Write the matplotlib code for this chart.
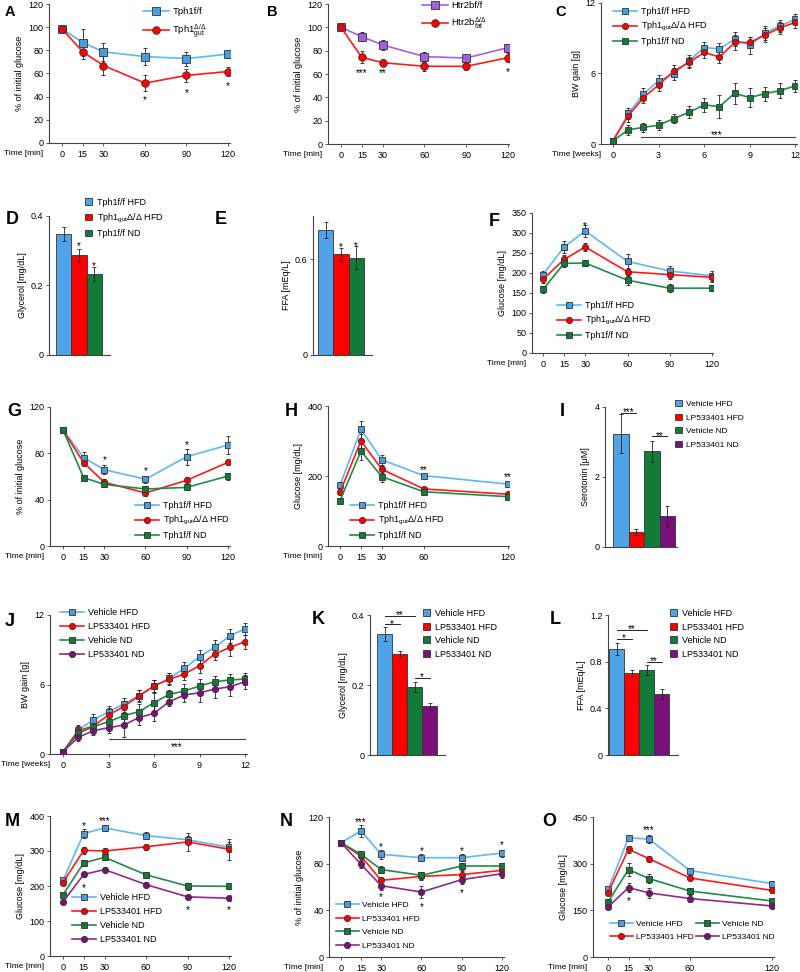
import matplotlib
matplotlib.use('Agg')
import matplotlib.pyplot as plt

plt.rcParams['font.family'] = ['Liberation Sans', 'DejaVu Sans']
plt.rcParams['mathtext.fontset'] = 'custom'
plt.rcParams['mathtext.rm'] = 'Liberation Sans'
plt.rcParams['mathtext.it'] = 'Liberation Sans:italic'
plt.rcParams['mathtext.bf'] = 'Liberation Sans:bold'

# ---------------- data ----------------
t_min = [0, 15, 30, 60, 90, 120]
t_short = [0, 15, 30, 60, 120]
weeks = list(range(13))

# A
a_ff = [98.5, 86.7, 78.7, 74.6, 72.9, 76.7]
a_ff_err = [1, 12, 8, 7, 6, 3]
a_gut = [98.5, 78.7, 66.9, 51.7, 58.3, 61.7]
a_gut_err = [1, 6, 8, 7, 6, 4]
# B
b_ff = [100, 92, 84.9, 74.9, 73.7, 82.6]
b_ff_err = [1, 4, 4, 4, 3, 3]
b_fat = [100, 74.3, 69.7, 66.6, 66.6, 74]
b_fat_err = [1, 5, 3, 4, 3, 4]
# C
c_ff_hfd = [0.28, 2.6, 4.26, 5.37, 5.97, 7.08, 8.2, 8.1, 8.9, 8.4, 9.44, 10.07, 10.6]
c_ff_hfd_err = [0.2, 0.5, 0.5, 0.5, 0.5, 0.5, 0.5, 0.5, 0.6, 0.7, 0.6, 0.5, 0.5]
c_gut_hfd = [0.28, 2.39, 3.95, 5.03, 6.2, 6.94, 7.8, 7.4, 8.64, 8.64, 9.27, 9.9, 10.35]
c_gut_hfd_err = [0.2, 0.5, 0.5, 0.5, 0.5, 0.5, 0.5, 0.5, 0.6, 0.5, 0.6, 0.5, 0.5]
c_ff_nd = [0.28, 1.2, 1.42, 1.6, 2.16, 2.7, 3.33, 3.18, 4.32, 3.95, 4.29, 4.55, 4.95]
c_ff_nd_err = [0.2, 0.4, 0.4, 0.4, 0.4, 0.5, 0.6, 1.0, 0.9, 0.8, 0.6, 0.6, 0.5]
# D / E
de_groups = ['Tph1f/f HFD', r'Tph1$_{\rm gut}$Δ/Δ HFD', 'Tph1f/f ND']
d_glycerol = [0.349, 0.287, 0.232]
d_glycerol_err = [0.02, 0.018, 0.02]
e_ffa = [0.78, 0.63, 0.61]
e_ffa_err = [0.05, 0.04, 0.07]
# F
f_ff_hfd = [196, 265, 305, 229, 205, 193]
f_ff_hfd_err = [10, 15, 15, 18, 12, 12]
f_gut_hfd = [184, 234, 265, 203, 196, 189]
f_gut_hfd_err = [10, 12, 10, 10, 12, 12]
f_ff_nd = [159, 224, 225, 182, 162, 162]
f_ff_nd_err = [8, 8, 8, 12, 10, 8]
# G
g_ff_hfd = [100.4, 76.3, 65.9, 57.6, 77.1, 87.2]
g_ff_hfd_err = [2, 5, 4, 3, 7, 8]
g_gut_hfd = [99.9, 71.9, 55, 45.8, 56.7, 72.2]
g_gut_hfd_err = [2, 3, 3, 3, 3, 2]
g_ff_nd = [100, 59, 53.2, 49.2, 50.6, 60.4]
g_ff_nd_err = [2, 2, 2, 3, 2, 3]
# H
h_ff_hfd = [174, 333, 246, 201, 177]
h_ff_hfd_err = [8, 25, 15, 6, 6]
h_gut_hfd = [154, 300, 219, 163, 148]
h_gut_hfd_err = [8, 20, 10, 6, 5]
h_ff_nd = [130, 271, 198, 155, 141]
h_ff_nd_err = [6, 25, 15, 5, 4]
# I
lp_groups = ['Vehicle HFD', 'LP533401 HFD', 'Vehicle ND', 'LP533401 ND']
i_serotonin = [3.24, 0.43, 2.73, 0.88]
i_serotonin_err = [0.55, 0.08, 0.3, 0.3]
# J
j_veh_hfd = [0.2, 2.07, 2.94, 3.65, 4.32, 5.04, 5.87, 6.53, 7.4, 8.4, 9.21, 10.2, 10.8]
j_veh_hfd_err = [0.2, 0.4, 0.5, 0.5, 0.5, 0.5, 0.5, 0.5, 0.5, 0.6, 0.6, 0.6, 0.5]
j_lp_hfd = [0.2, 2.0, 2.42, 3.37, 4.09, 5.0, 5.87, 6.45, 6.9, 7.63, 8.63, 9.2, 9.7]
j_lp_hfd_err = [0.2, 0.4, 0.5, 0.6, 0.5, 0.5, 0.5, 0.5, 0.5, 0.6, 0.5, 0.7, 0.6]
j_veh_nd = [0.2, 1.78, 2.36, 2.79, 3.31, 3.65, 4.43, 5.15, 5.44, 5.87, 6.24, 6.39, 6.47]
j_veh_nd_err = [0.2, 0.4, 0.5, 0.5, 0.6, 0.7, 0.8, 0.4, 0.6, 0.6, 0.5, 0.5, 0.5]
j_lp_nd = [0.2, 1.44, 2.01, 2.27, 2.5, 3.14, 3.51, 4.52, 5.09, 5.29, 5.6, 5.81, 6.24]
j_lp_nd_err = [0.2, 0.3, 0.4, 0.5, 1.0, 0.6, 0.7, 0.4, 0.6, 0.8, 0.8, 0.8, 0.6]
# K / L
k_glycerol = [0.346, 0.289, 0.195, 0.14]
k_glycerol_err = [0.02, 0.008, 0.015, 0.01]
l_ffa = [0.906, 0.706, 0.729, 0.523]
l_ffa_err = [0.05, 0.025, 0.04, 0.04]
# M
m_veh_hfd = [216, 350, 366, 344, 332, 311]
m_veh_hfd_err = [6, 12, 8, 10, 12, 15]
m_lp_hfd = [210, 302, 300, 312, 326, 305]
m_lp_hfd_err = [6, 10, 8, 8, 25, 30]
m_veh_nd = [175, 266, 282, 232, 200, 199]
m_veh_nd_err = [6, 8, 8, 8, 10, 8]
m_lp_nd = [155, 233, 247, 204, 169, 165]
m_lp_nd_err = [5, 8, 8, 8, 5, 5]
# N
n_veh_hfd = [98, 108, 88, 85.1, 85.1, 89.1]
n_veh_hfd_err = [1, 5, 4, 3, 3, 3]
n_lp_hfd = [98, 86.3, 65.7, 69.1, 70.6, 74.3]
n_lp_hfd_err = [1, 3, 3, 3, 3, 3]
n_veh_nd = [98, 88, 74.9, 70, 78, 78]
n_veh_nd_err = [1, 3, 3, 3, 3, 3]
n_lp_nd = [98, 79.4, 61.1, 55.7, 66.3, 71.4]
n_lp_nd_err = [1, 3, 4, 5, 4, 4]
# O
o_veh_hfd = [217, 383, 379, 278, 236]
o_veh_hfd_err = [8, 8, 12, 8, 8]
o_lp_hfd = [207, 346, 316, 254, 214]
o_lp_hfd_err = [8, 12, 10, 8, 8]
o_veh_nd = [177, 281, 252, 212, 180]
o_veh_nd_err = [8, 20, 15, 10, 8]
o_lp_nd = [161, 223, 206, 188, 164]
o_lp_nd_err = [8, 15, 15, 10, 6]

# ---------------- style ----------------
W, H = 800, 972
FS = 6.5
EDGE = '#333333'
BLUE_L, BLUE_F = '#5DB8F5', '#4A9EE0'
RED_L, RED_F = '#FF1A1A', '#FF0000'
GREEN_L, GREEN_F = '#1E8C46', '#137A3A'
PURP_L, PURP_F = '#8E2A8E', '#7B107B'
VIOL_L, VIOL_F = '#A65EE6', '#A060E0'
BAR_COLS = ['#4FA3E6', '#FF0000', '#137A3A', '#7B107B']

fig = plt.figure(figsize=(W / 100, H / 100), dpi=100)


def make_ax(x0, top, x1, bottom):
    ax = fig.add_axes([x0 / W, 1 - bottom / H, (x1 - x0) / W, (bottom - top) / H])
    for s in ['top', 'right']:
        ax.spines[s].set_visible(False)
    for s in ['left', 'bottom']:
        ax.spines[s].set_color('#444444')
        ax.spines[s].set_linewidth(0.8)
    ax.tick_params(labelsize=FS, length=2.5, width=0.6, pad=2.5, color='#444444')
    ax.tick_params(axis='y', pad=1.5)
    return ax


def letter(x, y, s, fs=13):
    fig.text(x / W, 1 - y / H, s, fontsize=fs, fontweight='bold', va='center', ha='left')


def time_label(ax, s='Time [min]', dx=-4):
    ax.annotate(s, xy=(0, 0), xycoords='axes fraction', xytext=(dx, -5),
                textcoords='offset points', ha='right', va='top', fontsize=6.0)


def series(ax, x, y, err, lc, fc, marker, label, ms=4.8):
    ax.errorbar(x, y, yerr=err, fmt='none', ecolor='#222222', elinewidth=0.6,
                capsize=1.3, capthick=0.6, zorder=2)
    ln, = ax.plot(x, y, color=lc, lw=1.2, marker=marker, ms=ms, mfc=fc, mec=EDGE,
                  mew=0.6, label=label, zorder=3)
    return ln


def bars(ax, vals, errs):
    b = ax.bar(range(len(vals)), vals, width=1.0, color=BAR_COLS[:len(vals)],
               edgecolor=EDGE, linewidth=0.6, yerr=errs,
               error_kw=dict(ecolor='#222222', elinewidth=0.6, capsize=1.3, capthick=0.6))
    ax.set_xticks([])
    return list(b.patches)


def legend(ax, handles, labels, x, y, ncol=1, bar=False, spacing=0.55, fs=FS, colsp=1.4):
    kw = dict(handlelength=0.8, handleheight=0.8, handletextpad=0.5) if bar else \
        dict(handlelength=2.7, handletextpad=0.4)
    ax.legend(handles, labels, loc='upper left', bbox_to_anchor=(x / W, 1 - (y - 6) / H),
              bbox_transform=fig.transFigure, frameon=False, fontsize=fs, borderpad=0,
              borderaxespad=0, labelspacing=spacing, ncol=ncol, columnspacing=colsp, **kw)


def star(ax, x, y, s, fs=7, dy=-2):
    ax.annotate(s, xy=(x, y), xytext=(0, dy), textcoords='offset points',
                ha='center', va='center', fontsize=fs)


def sig_line(ax, x0, x1, y, s):
    ax.plot([x0, x1], [y, y], color='#222222', lw=0.7)
    star(ax, (x0 + x1) / 2, y, s, dy=0.5)


GUT_HFD = r'Tph1$_{\rm gut}$Δ/Δ HFD'

# ---------------- A ----------------
ax = make_ax(49, 4, 230, 143)
h1 = series(ax, t_min, a_ff, a_ff_err, BLUE_L, BLUE_F, 's', 'Tph1f/f', ms=6)
h2 = series(ax, t_min, a_gut, a_gut_err, RED_L, RED_F, 'o', 'gut', ms=5.5)
ax.set_xlim(-9.4, 121.5); ax.set_ylim(0, 120)
ax.set_xticks(t_min); ax.set_yticks(range(0, 121, 20))
ax.set_ylabel('% of initial glucose', fontsize=FS, labelpad=3)
time_label(ax)
for x, y in [(60, 39.3), (90, 45.4), (120, 51.7)]:
    star(ax, x, y, '*')
legend(ax, [h1, h2], ['Tph1f/f', r'Tph1$_{\rm gut}^{Δ/Δ}$'], 143, 13, spacing=0.7, fs=6.8)
letter(5, 12, 'A', fs=10.5)

# ---------------- B ----------------
ax = make_ax(328, 4, 509, 144)
h1 = series(ax, t_min, b_ff, b_ff_err, VIOL_L, VIOL_F, 's', 'Htr2bf/f', ms=6)
h2 = series(ax, t_min, b_fat, b_fat_err, RED_L, RED_F, 'o', 'fat', ms=5.5)
ax.set_xlim(-9.3, 120.7); ax.set_ylim(0, 120)
ax.set_xticks(t_min); ax.set_yticks(range(0, 121, 20))
ax.set_ylabel('% of initial glucose', fontsize=FS, labelpad=3)
time_label(ax)
star(ax, 15, 62.9, '***'); star(ax, 30, 62.9, '**'); star(ax, 120, 64.3, '*')
legend(ax, [h1, h2], ['Htr2bf/f', r'Htr2b$_{\rm fat}^{Δ/Δ}$'], 422, 7, spacing=0.6, fs=6.8)
letter(267, 12, 'B', fs=10.5)

# ---------------- C ----------------
ax = make_ax(601, 3, 797, 144)
h1 = series(ax, weeks, c_ff_hfd, c_ff_hfd_err, BLUE_L, BLUE_F, 's', 'Tph1f/f HFD')
h2 = series(ax, weeks, c_gut_hfd, c_gut_hfd_err, RED_L, RED_F, 'o', GUT_HFD, ms=4.5)
h3 = series(ax, weeks, c_ff_nd, c_ff_nd_err, GREEN_L, GREEN_F, 's', 'Tph1f/f ND')
ax.set_xlim(-0.79, 12.1); ax.set_ylim(0, 12)
ax.set_xticks([0, 3, 6, 9, 12]); ax.set_yticks([0, 6, 12])
ax.set_ylabel('BW gain [g]', fontsize=FS, labelpad=3)
time_label(ax, 'Time [weeks]', dx=0)
ax.plot([1.87, 12], [0.63, 0.63], color='#444444', lw=0.8)
star(ax, 6.83, 1.0, '***')
legend(ax, [h1, h2, h3], ['Tph1f/f HFD', GUT_HFD, 'Tph1f/f ND'], 613, 13, spacing=0.45)
letter(555, 12, 'C', fs=10.5)

# ---------------- D ----------------
ax = make_ax(49, 216, 110, 355)
p = bars(ax, d_glycerol, d_glycerol_err)
ax.set_xlim(-0.99, 3.05); ax.set_ylim(0, 0.4)
ax.set_yticks([0, 0.2, 0.4]); ax.set_yticklabels(['0', '0.2', '0.4'])
ax.set_ylabel('Glycerol [mg/dL]', fontsize=FS, labelpad=3)
star(ax, 1, 0.322, '*'); star(ax, 2, 0.263, '*')
legend(ax, p, de_groups, 85, 204, bar=True, spacing=0.5)
letter(6, 220, 'D')

# ---------------- E ----------------
ax = make_ax(313, 216, 372, 355)
bars(ax, e_ffa, e_ffa_err)
ax.set_xlim(-0.85, 3.05); ax.set_ylim(0, 0.87)
ax.set_yticks([0, 0.6]); ax.set_yticklabels(['0', '0.6'])
ax.set_ylabel('FFA [mEq/L]', fontsize=FS, labelpad=3)
star(ax, 1, 0.69, '*'); star(ax, 2, 0.70, '*')
letter(215, 220, 'E')

# ---------------- F ----------------
ax = make_ax(532, 213, 713, 353)
h1 = series(ax, t_min, f_ff_hfd, f_ff_hfd_err, BLUE_L, BLUE_F, 's', 'Tph1f/f HFD')
h2 = series(ax, t_min, f_gut_hfd, f_gut_hfd_err, RED_L, RED_F, 'o', GUT_HFD, ms=4.5)
h3 = series(ax, t_min, f_ff_nd, f_ff_nd_err, GREEN_L, GREEN_F, 's', 'Tph1f/f ND')
ax.set_xlim(-7.8, 120.7); ax.set_ylim(0, 350)
ax.set_xticks(t_min); ax.set_yticks(range(0, 351, 50))
ax.set_ylabel('Glucose [mg/dL]', fontsize=FS, labelpad=3)
time_label(ax)
star(ax, 30, 323, '*')
legend(ax, [h1, h2, h3], ['Tph1f/f HFD', GUT_HFD, 'Tph1f/f ND'], 557, 307, spacing=0.45)
letter(489, 222, 'F')

# ---------------- G ----------------
ax = make_ax(50, 407, 230, 546)
h1 = series(ax, t_min, g_ff_hfd, g_ff_hfd_err, BLUE_L, BLUE_F, 's', 'Tph1f/f HFD')
h2 = series(ax, t_min, g_gut_hfd, g_gut_hfd_err, RED_L, RED_F, 'o', GUT_HFD, ms=4.5)
h3 = series(ax, t_min, g_ff_nd, g_ff_nd_err, GREEN_L, GREEN_F, 's', 'Tph1f/f ND')
ax.set_xlim(-9.5, 121.5); ax.set_ylim(0, 120)
ax.set_xticks(t_min); ax.set_yticks([0, 40, 80, 120])
ax.set_ylabel('% of initial glucose', fontsize=FS, labelpad=3)
time_label(ax)
star(ax, 30, 76.3, '*'); star(ax, 60, 67.3, '*'); star(ax, 90, 89.8, '*')
legend(ax, [h1, h2, h3], ['Tph1f/f HFD', GUT_HFD, 'Tph1f/f ND'], 135, 507, spacing=0.45)
letter(7, 412, 'G')

# ---------------- H ----------------
ax = make_ax(328, 406, 509, 546)
h1 = series(ax, t_short, h_ff_hfd, h_ff_hfd_err, BLUE_L, BLUE_F, 's', 'Tph1f/f HFD')
h2 = series(ax, t_short, h_gut_hfd, h_gut_hfd_err, RED_L, RED_F, 'o', GUT_HFD, ms=4.5)
h3 = series(ax, t_short, h_ff_nd, h_ff_nd_err, GREEN_L, GREEN_F, 's', 'Tph1f/f ND')
ax.set_xlim(-8.6, 121); ax.set_ylim(0, 400)
ax.set_xticks(t_short); ax.set_yticks([0, 200, 400])
ax.set_ylabel('Glucose [mg/dL]', fontsize=FS, labelpad=3)
time_label(ax)
star(ax, 60, 224.8, '**'); star(ax, 120, 205.7, '**')
legend(ax, [h1, h2, h3], ['Tph1f/f HFD', GUT_HFD, 'Tph1f/f ND'], 350, 507, spacing=0.45)
letter(285, 412, 'H')

# ---------------- I ----------------
ax = make_ax(605, 407, 677, 547)
p = bars(ax, i_serotonin, i_serotonin_err)
ax.set_xlim(-1.02, 3.63); ax.set_ylim(0, 4)
ax.set_yticks([0, 2, 4])
ax.set_ylabel('Serotonin [μM]', fontsize=FS, labelpad=3)
sig_line(ax, 0, 1, 3.83, '***'); sig_line(ax, 2, 3, 3.16, '**')
legend(ax, p, lp_groups, 675, 406, bar=True, spacing=0.65, fs=6.0)
letter(560, 412, 'I')

# ---------------- J ----------------
ax = make_ax(50, 615, 247, 754)
h1 = series(ax, weeks, j_veh_hfd, j_veh_hfd_err, BLUE_L, BLUE_F, 's', 'Vehicle HFD')
h2 = series(ax, weeks, j_lp_hfd, j_lp_hfd_err, RED_L, RED_F, 'o', 'LP533401 HFD', ms=4.5)
h3 = series(ax, weeks, j_veh_nd, j_veh_nd_err, GREEN_L, GREEN_F, 's', 'Vehicle ND')
h4 = series(ax, weeks, j_lp_nd, j_lp_nd_err, PURP_L, PURP_F, 'o', 'LP533401 ND', ms=4.5)
ax.set_xlim(-0.86, 12.13); ax.set_ylim(0, 12)
ax.set_xticks([0, 3, 6, 9, 12]); ax.set_yticks([0, 6, 12])
ax.set_ylabel('BW gain [g]', fontsize=FS, labelpad=3)
time_label(ax, 'Time [weeks]', dx=0)
ax.plot([3, 12], [1.27, 1.27], color='#444444', lw=0.8)
star(ax, 7.5, 0.8, '***')
legend(ax, [h1, h2, h3, h4], lp_groups, 60, 614, spacing=0.55)
letter(5, 621, 'J')

# ---------------- K ----------------
ax = make_ax(370, 615, 445, 755)
p = bars(ax, k_glycerol, k_glycerol_err)
ax.set_xlim(-0.97, 4.03); ax.set_ylim(0, 0.4)
ax.set_yticks([0, 0.2, 0.4]); ax.set_yticklabels(['0', '0.2', '0.4'])
ax.set_ylabel('Glycerol [mg/dL]', fontsize=FS, labelpad=3)
sig_line(ax, 0, 2, 0.398, '**'); sig_line(ax, 0, 1, 0.373, '*'); sig_line(ax, 2, 3, 0.221, '*')
legend(ax, p, lp_groups, 423, 615, bar=True, spacing=0.5)
letter(312, 620, 'K')

# ---------------- L ----------------
ax = make_ax(608, 615, 678, 755)
p = bars(ax, l_ffa, l_ffa_err)
ax.set_xlim(-0.57, 4.1); ax.set_ylim(0, 1.2)
ax.set_yticks([0, 0.4, 0.8, 1.2]); ax.set_yticklabels(['0', '0.4', '0.8', '1.2'])
ax.set_ylabel('FFA [mEq/L]', fontsize=FS, labelpad=3)
sig_line(ax, 0, 2, 1.07, '**'); sig_line(ax, 0, 1, 0.994, '*'); sig_line(ax, 2, 3, 0.80, '**')
legend(ax, p, lp_groups, 670, 615, bar=True, spacing=0.5)
letter(550, 620, 'L')

# ---------------- M ----------------
ax = make_ax(50, 816, 231, 956)
h1 = series(ax, t_min, m_veh_hfd, m_veh_hfd_err, BLUE_L, BLUE_F, 's', 'Vehicle HFD')
h2 = series(ax, t_min, m_lp_hfd, m_lp_hfd_err, RED_L, RED_F, 'o', 'LP533401 HFD', ms=4.5)
h3 = series(ax, t_min, m_veh_nd, m_veh_nd_err, GREEN_L, GREEN_F, 's', 'Vehicle ND')
h4 = series(ax, t_min, m_lp_nd, m_lp_nd_err, PURP_L, PURP_F, 'o', 'LP533401 ND', ms=4.5)
ax.set_xlim(-9.4, 121.4); ax.set_ylim(0, 400)
ax.set_xticks(t_min); ax.set_yticks(range(0, 401, 100))
ax.set_ylabel('Glucose [mg/dL]', fontsize=FS, labelpad=3)
time_label(ax)
star(ax, 15, 380, '*'); star(ax, 30, 392, '***')
star(ax, 15, 202, '*'); star(ax, 90, 138, '*'); star(ax, 120, 138, '*')
legend(ax, [h1, h2, h3, h4], lp_groups, 72, 899, spacing=0.55)
letter(5, 821, 'M')

# ---------------- N ----------------
ax = make_ax(329, 817, 504, 957)
h1 = series(ax, t_min, n_veh_hfd, n_veh_hfd_err, BLUE_L, BLUE_F, 's', 'Vehicle HFD')
h2 = series(ax, t_min, n_lp_hfd, n_lp_hfd_err, RED_L, RED_F, 'o', 'LP533401 HFD', ms=4.5)
h3 = series(ax, t_min, n_veh_nd, n_veh_nd_err, GREEN_L, GREEN_F, 's', 'Vehicle ND')
h4 = series(ax, t_min, n_lp_nd, n_lp_nd_err, PURP_L, PURP_F, 'o', 'LP533401 ND', ms=4.5)
ax.set_xlim(-8.9, 121.5); ax.set_ylim(0, 120)
ax.set_xticks(t_min); ax.set_yticks([0, 40, 80, 120])
ax.set_ylabel('% of initial glucose', fontsize=FS, labelpad=3)
time_label(ax)
star(ax, 15, 117.7, '***')
for x, y in [(30, 96.6), (60, 92.9), (90, 93.4), (120, 98.6), (30, 53.4), (60, 44.9), (90, 57.1)]:
    star(ax, x, y, '*')
legend(ax, [h1, h2, h3, h4], lp_groups, 336, 907, spacing=0.7, fs=6.0)
letter(280, 821, 'N')

# ---------------- O ----------------
ax = make_ax(593, 817, 774, 957)
h1 = series(ax, t_short, o_veh_hfd, o_veh_hfd_err, BLUE_L, BLUE_F, 's', 'Vehicle HFD')
h2 = series(ax, t_short, o_lp_hfd, o_lp_hfd_err, RED_L, RED_F, 'o', 'LP533401 HFD', ms=4.5)
h3 = series(ax, t_short, o_veh_nd, o_veh_nd_err, GREEN_L, GREEN_F, 's', 'Vehicle ND')
h4 = series(ax, t_short, o_lp_nd, o_lp_nd_err, PURP_L, PURP_F, 'o', 'LP533401 ND', ms=4.5)
ax.set_xlim(-11, 121.5); ax.set_ylim(0, 450)
ax.set_xticks(t_short); ax.set_yticks([0, 150, 300, 450])
ax.set_ylabel('Glucose [mg/dL]', fontsize=FS, labelpad=3)
time_label(ax)
star(ax, 30, 415.7, '***'); star(ax, 15, 187.5, '*')
legend(ax, [h1, h2, h3, h4], lp_groups, 610, 926, ncol=2, spacing=0.65, fs=6.0, colsp=0.3)
letter(542, 821, 'O')

fig.savefig('out.png', dpi=100)
